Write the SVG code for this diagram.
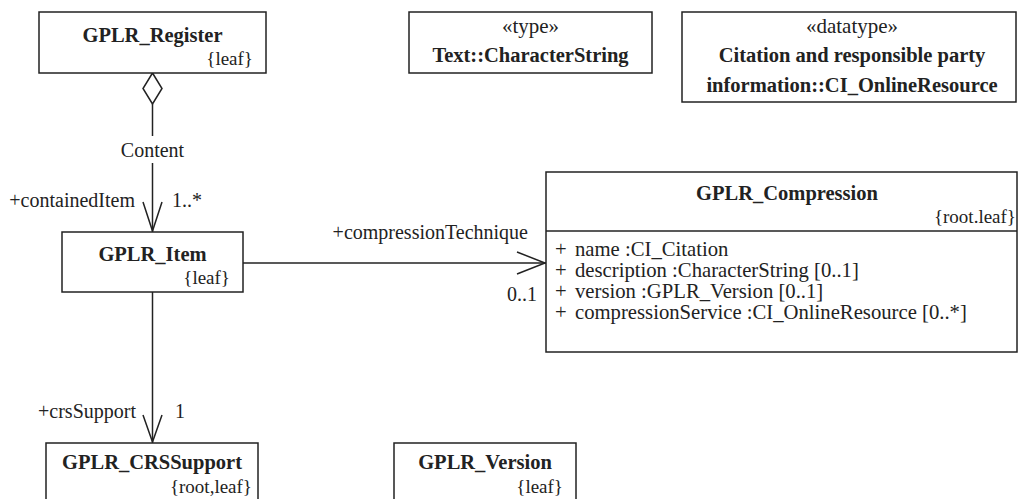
<svg xmlns="http://www.w3.org/2000/svg" width="1019" height="499" viewBox="0 0 1019 499">
<style>
.box{fill:#fff;stroke:#222;stroke-width:1.5}
.ln{fill:none;stroke:#222;stroke-width:1.5}
.t{font-family:"Liberation Serif",serif;font-size:20.5px;font-weight:bold;fill:#222;text-anchor:middle}
.tag{font-family:"Liberation Serif",serif;font-size:19px;fill:#222;text-anchor:end}
.st{font-family:"Liberation Serif",serif;font-size:21px;fill:#222;text-anchor:middle}
.at{font-family:"Liberation Serif",serif;font-size:20.7px;fill:#222}
.lb{font-family:"Liberation Serif",serif;font-size:20px;fill:#222}
</style>
<rect width="1019" height="499" fill="#fff"/>
<g id="connectors">
  <polygon class="ln" points="152.5,73 162,88.5 152.5,104 143,88.5" fill="#fff"/>
  <line class="ln" x1="152.5" y1="104" x2="152.5" y2="136"/>
  <line class="ln" x1="152.5" y1="163" x2="152.5" y2="232"/>
  <polyline class="ln" points="143,202 152.5,231 162,202"/>
  <text class="lb" x="152.5" y="157" text-anchor="middle">Content</text>
  <text class="lb" x="135" y="207" text-anchor="end">+containedItem</text>
  <text class="lb" x="172" y="207">1..*</text>
  <line class="ln" x1="243" y1="263" x2="546" y2="263"/>
  <polyline class="ln" points="517,252 545,263 517,274"/>
  <text class="lb" x="528" y="239" text-anchor="end">+compressionTechnique</text>
  <text class="lb" x="537" y="301" text-anchor="end">0..1</text>
  <line class="ln" x1="152.5" y1="292" x2="152.5" y2="443"/>
  <polyline class="ln" points="143,415 152.5,442 162,415"/>
  <text class="lb" x="136" y="418" text-anchor="end">+crsSupport</text>
  <text class="lb" x="175" y="418">1</text>
</g>
<g id="GPLR_Register">
  <rect class="box" x="39" y="12" width="227" height="61"/>
  <text class="t" x="152.5" y="42">GPLR_Register</text>
  <text class="tag" x="253" y="65">{leaf}</text>
</g>
<g id="CharacterString">
  <rect class="box" x="409" y="12" width="243" height="61"/>
  <text class="st" x="530.5" y="33">«type»</text>
  <text class="t" x="530.5" y="62">Text::CharacterString</text>
</g>
<g id="CI_OnlineResource">
  <rect class="box" x="682" y="12" width="334" height="90"/>
  <text class="st" x="852" y="33">«datatype»</text>
  <text class="t" x="852" y="62">Citation and responsible party</text>
  <text class="t" x="852" y="92">information::CI_OnlineResource</text>
</g>
<g id="GPLR_Item">
  <rect class="box" x="62" y="232" width="181" height="60"/>
  <text class="t" x="152.5" y="261">GPLR_Item</text>
  <text class="tag" x="230" y="284">{leaf}</text>
</g>
<g id="GPLR_Compression">
  <rect class="box" x="546" y="172" width="471" height="180"/>
  <line class="ln" x1="546" y1="231" x2="1017" y2="231"/>
  <text class="t" x="787" y="200">GPLR_Compression</text>
  <text class="tag" x="1016" y="223">{root.leaf}</text>
  <text class="at" x="555" y="256">+</text><text class="at" x="575" y="256">name :CI_Citation</text>
  <text class="at" x="555" y="277">+</text><text class="at" x="575" y="277">description :CharacterString [0..1]</text>
  <text class="at" x="555" y="298">+</text><text class="at" x="575" y="298">version :GPLR_Version [0..1]</text>
  <text class="at" x="555" y="319">+</text><text class="at" x="575" y="319">compressionService :CI_OnlineResource [0..*]</text>
</g>
<g id="GPLR_CRSSupport">
  <rect class="box" x="46" y="443" width="212" height="70"/>
  <text class="t" x="152" y="469">GPLR_CRSSupport</text>
  <text class="tag" x="252" y="493">{root,leaf}</text>
</g>
<g id="GPLR_Version">
  <rect class="box" x="394" y="443" width="182" height="70"/>
  <text class="t" x="485" y="469">GPLR_Version</text>
  <text class="tag" x="563" y="493">{leaf}</text>
</g>
</svg>
